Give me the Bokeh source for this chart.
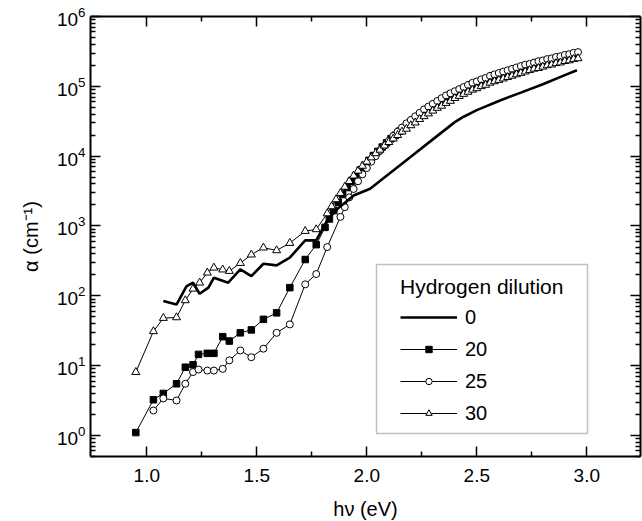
from bokeh.plotting import figure
from bokeh.models import (LinearAxis, LogAxis, FixedTicker, Legend, LegendItem,
                          BoxAnnotation, CustomJSTickFormatter, PrintfTickFormatter)
from bokeh.embed import file_html
from bokeh.resources import INLINE

# ---- data ----
x_h0 = [1.075, 1.135, 1.18, 1.21, 1.24, 1.28, 1.305, 1.37, 1.425, 1.475, 1.53, 1.59,
        1.65, 1.72, 1.77, 1.82, 1.87, 1.94, 2.015, 2.1, 2.2, 2.3, 2.4, 2.44, 2.5,
        2.6, 2.7, 2.8, 2.9, 2.955]
y_h0 = [84, 75, 136, 154, 107, 131, 182, 154, 239, 191, 288, 273,
        352, 622, 622, 1200, 1800, 2740, 3420, 5560, 9800, 17400, 30700, 36700, 45700,
        61700, 81300, 107000, 144500, 170000]

x_h20 = [0.95, 1.03, 1.075, 1.135, 1.175, 1.21, 1.235, 1.275, 1.305, 1.345, 1.375, 1.425,
         1.475, 1.53, 1.59, 1.65, 1.72, 1.77,
         1.81, 1.83, 1.85, 1.87, 1.89, 1.91, 1.93, 1.95, 1.97, 1.99, 2.01, 2.03, 2.05,
         2.07, 2.09, 2.11, 2.13, 2.15, 2.17, 2.19, 2.21, 2.23, 2.25, 2.27, 2.29, 2.31,
         2.33, 2.35, 2.37, 2.39, 2.41, 2.43, 2.45, 2.47, 2.49, 2.51, 2.53, 2.55, 2.57,
         2.59, 2.61, 2.63, 2.65, 2.67, 2.69, 2.71, 2.73, 2.75, 2.77, 2.79, 2.81, 2.83,
         2.85, 2.87, 2.89, 2.91, 2.93, 2.95]
y_h20 = [1.1, 3.25, 4.0, 5.5, 9.5, 10.3, 14.5, 15, 15, 26, 22.5, 29.5,
         32.5, 46, 57, 131, 331, 540,
         955, 1260, 1660, 2190, 2820, 3550, 4370, 5250, 6310, 7410, 8710, 10200, 11700,
         13500, 15500, 17800, 19900, 22900, 25700, 28800, 32400, 35500, 39800, 43700, 47900, 52500,
         57500, 63100, 67600, 74100, 79400, 85100, 91200, 97700, 104700, 109600, 117500, 123000, 131800,
         138000, 144500, 151400, 158500, 166000, 173800, 182000, 190500, 195000, 204200, 213800, 218800, 229100,
         234400, 245500, 251200, 263000, 269200, 281800]

x_h25 = [1.03, 1.075, 1.135, 1.175, 1.21, 1.235, 1.275, 1.305, 1.345, 1.375, 1.425, 1.475,
         1.53, 1.59, 1.65, 1.72, 1.77, 1.82,
         1.88, 1.90, 1.92, 1.94, 1.96, 1.98, 2.00, 2.02, 2.04, 2.06, 2.08, 2.10, 2.12,
         2.14, 2.16, 2.18, 2.20, 2.22, 2.24, 2.26, 2.28, 2.30, 2.32, 2.34, 2.36, 2.38,
         2.40, 2.42, 2.44, 2.46, 2.48, 2.50, 2.52, 2.54, 2.56, 2.58, 2.60, 2.62, 2.64,
         2.66, 2.68, 2.70, 2.72, 2.74, 2.76, 2.78, 2.80, 2.82, 2.84, 2.86, 2.88, 2.90,
         2.92, 2.94, 2.96]
y_h25 = [2.28, 3.4, 3.17, 5.5, 8.1, 8.8, 8.5, 8.5, 9.0, 11.9, 16.5, 13.2,
         17.5, 29.5, 39, 146, 205, 499,
         1350, 1860, 2570, 3390, 4370, 5500, 6760, 8320, 10000, 12000, 14100, 16600, 19500,
         22400, 25700, 29500, 33100, 37200, 41700, 46800, 51300, 56200, 61700, 67600, 74100, 79400,
         85100, 91200, 97700, 104700, 112200, 117500, 125900, 131800, 141300, 147900, 154900, 162200, 169800,
         177800, 186200, 195000, 204200, 208900, 218800, 229100, 234400, 245500, 251200, 263000, 269200, 281800,
         288400, 302000, 309000]

x_h30 = [0.95, 1.03, 1.075, 1.135, 1.175, 1.21, 1.24, 1.275, 1.305, 1.345, 1.375, 1.425,
         1.475, 1.53, 1.59, 1.65, 1.72, 1.77, 1.82,
         1.84, 1.86, 1.88, 1.90, 1.92, 1.94, 1.96, 1.98, 2.00, 2.02, 2.04, 2.06, 2.08,
         2.10, 2.12, 2.14, 2.16, 2.18, 2.20, 2.22, 2.24, 2.26, 2.28, 2.30, 2.32, 2.34,
         2.36, 2.38, 2.40, 2.42, 2.44, 2.46, 2.48, 2.50, 2.52, 2.54, 2.56, 2.58, 2.60,
         2.62, 2.64, 2.66, 2.68, 2.70, 2.72, 2.74, 2.76, 2.78, 2.80, 2.82, 2.84, 2.86,
         2.88, 2.90, 2.92, 2.94, 2.96]
y_h30 = [8.07, 31, 48, 49, 86, 126, 154, 214, 252, 237, 226, 294,
         388, 489, 447, 569, 845, 894, 1510,
         1905, 2400, 2950, 3630, 4370, 5250, 6170, 7240, 8320, 9550, 10960, 12300, 14130,
         15850, 17780, 19950, 22390, 24550, 27540, 30200, 33880, 37150, 40740, 44670, 48980, 52480,
         57540, 61660, 67610, 72440, 77620, 83180, 89130, 93330, 100000, 104700, 112200, 117500, 123000,
         128800, 134900, 141300, 147900, 154900, 162200, 169800, 177800, 182000, 190500, 199500, 204200, 213800,
         218800, 229100, 234400, 245500, 251200]

x_major = [1.0, 1.5, 2.0, 2.5, 3.0]
x_minor = [1.25, 1.75, 2.25, 2.75]
y_major = [1, 10, 100, 1e3, 1e4, 1e5, 1e6]
y_minor = [m * 10.0 ** e for e in range(-1, 6) for m in range(2, 10) if m * 10.0 ** e >= 0.5]

legend_labels = ["0", "20", "25", "30"]

FONT = "Liberation Sans"

p = figure(frame_width=550, frame_height=440,
           x_range=(0.744, 3.244), y_range=(0.5, 1e6), y_axis_type="log",
           output_backend="svg", toolbar_location=None,
           min_border_left=90, min_border_right=2, min_border_top=16, min_border_bottom=65)
p.xgrid.visible = False
p.ygrid.visible = False
p.outline_line_color = None
p.background_fill_color = "white"

xt = FixedTicker(ticks=x_major, minor_ticks=x_minor)
yt = FixedTicker(ticks=y_major, minor_ticks=y_minor)
p.xaxis.ticker = xt
p.yaxis.ticker = yt
p.xaxis.formatter = PrintfTickFormatter(format="%.1f")

def style_axis(ax):
    ax.axis_line_width = 2
    ax.axis_line_color = "black"
    ax.major_tick_line_width = 1.5
    ax.minor_tick_line_width = 1.5
    ax.major_tick_in = 10
    ax.major_tick_out = 0
    ax.minor_tick_in = 5
    ax.minor_tick_out = 0
    ax.major_label_text_font = FONT
    ax.major_label_text_font_size = "19px"
    ax.major_label_text_color = "black"
    ax.axis_label_text_font = FONT
    ax.axis_label_text_font_size = "20px"
    ax.axis_label_text_font_style = "normal"
    ax.axis_label_text_color = "black"

for ax in p.xaxis + p.yaxis:
    style_axis(ax)

p.xaxis.axis_label = "hν (eV)"
p.xaxis.major_label_standoff = 12
p.xaxis.axis_label_standoff = 13
p.yaxis.axis_label = "α (cm⁻¹)"
p.yaxis.major_label_standoff = 5
p.yaxis.axis_label_standoff = 12

blank = CustomJSTickFormatter(code="return ''")
top = LinearAxis(ticker=xt, formatter=blank, major_label_standoff=0, axis_label_standoff=0)
right = LogAxis(ticker=yt, formatter=blank, major_label_standoff=0, axis_label_standoff=0)
style_axis(top)
style_axis(right)
p.add_layout(top, "above")
p.add_layout(right, "right")

# ---- series ----
l20 = p.line(x_h20, y_h20, line_width=1, color="black")
s20 = p.scatter(x_h20, y_h20, marker="square", size=6.5, fill_color="black", line_color="black")
l25 = p.line(x_h25, y_h25, line_width=1, color="black")
s25 = p.scatter(x_h25, y_h25, marker="circle", size=7, fill_color="white", line_color="black", line_width=1)
l30 = p.line(x_h30, y_h30, line_width=1, color="black")
s30 = p.scatter(x_h30, y_h30, marker="triangle", size=8, fill_color="white", line_color="black", line_width=1)
r0 = p.line(x_h0, y_h0, line_width=2.6, color="black")

# ---- legend ----
box = BoxAnnotation(left=286, right=497, top=192, bottom=23,
                    left_units="screen", right_units="screen", top_units="screen", bottom_units="screen",
                    fill_color="white", fill_alpha=1.0, line_color="#333333", line_width=1.5)
p.add_layout(box)

legend = Legend(items=[LegendItem(label=legend_labels[0], renderers=[r0]),
                       LegendItem(label=legend_labels[1], renderers=[l20, s20]),
                       LegendItem(label=legend_labels[2], renderers=[l25, s25]),
                       LegendItem(label=legend_labels[3], renderers=[l30, s30])],
                title="Hydrogen dilution", location=(310, 31),
                padding=8, spacing=8, glyph_width=57, glyph_height=16, label_height=24,
                label_standoff=8,
                title_standoff=6, border_line_color=None, background_fill_alpha=0,
                label_text_font=FONT, label_text_font_size="20px",
                title_text_font=FONT, title_text_font_size="21px", title_text_font_style="normal",
                label_text_color="black", title_text_color="black")
p.add_layout(legend, "center")

open("out.html", "w").write(file_html(p, INLINE))
